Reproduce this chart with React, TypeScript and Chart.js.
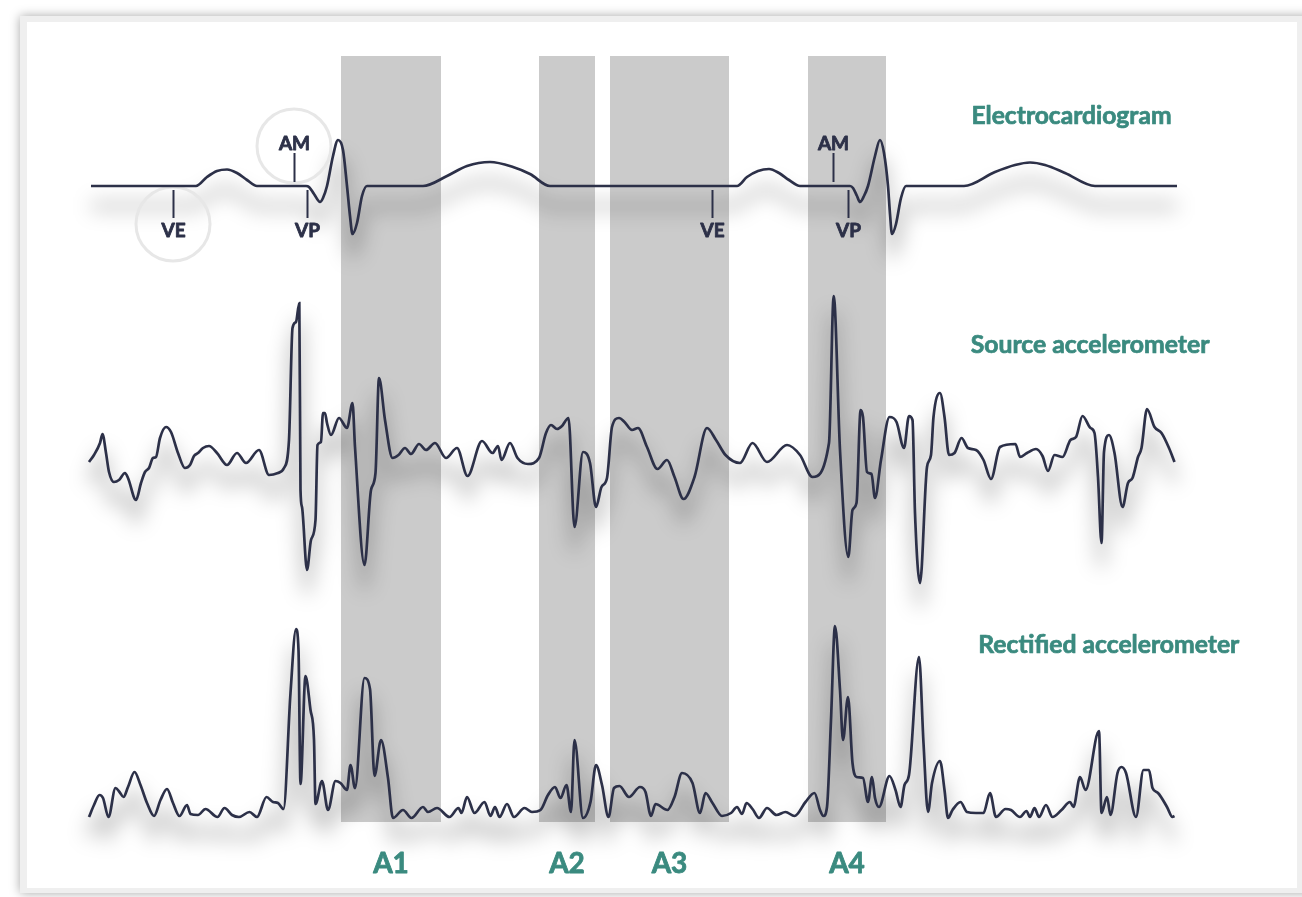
import React, { useEffect, useRef } from "react";
import { Chart, registerables } from "chart.js";

Chart.register(...registerables);

// time (ms) , amplitude (arbitrary units, 0 = trace baseline)
const ecgSamples: [number, number][] = [
  [91, 0], [196, 0], [207, 9], [217, 15], [227, 16.5], [237, 13], [247, 6], [257, 0],
  [306, 0], [309, -1], [314, -8], [320, -16], [323, -12], [327, 0], [333, 30], [338, 46],
  [343, 36], [347, 0], [350, -30], [352.5, -48], [357, -37], [362, -10], [367, 0],
  [423, 0], [447, 10], [467, 20], [490, 24], [513, 19], [530, 12], [550, 0],
  [737, 0], [747, 9], [758, 15], [769, 17], [779, 13], [789, 6], [800, 0],
  [850, 0], [853, -2], [857, -10], [860, -16], [864, -10], [868, 0], [875, 30], [880, 46],
  [884, 33], [888, 0], [890, -28], [892, -48], [896, -38], [901, -12], [906, 0],
  [964, 0], [995, 14], [1015, 21], [1030, 23.5], [1045, 21], [1065, 13], [1095, 0], [1177, 0],
];

const sourceSamples: [number, number][] = [
  [89, -7], [94, 0], [100, 12], [102.5, 21], [106, 2], [109, -17], [114, -27], [119, -25],
  [125, -18], [128, -23], [136, -45], [141, -28], [145, -17], [149, -13], [153, -3], [156, -2],
  [160, 17], [166, 28], [171, 23], [178, 2], [185, -13], [190, -10], [194, -1], [198, 2],
  [203, 7], [209, 9], [217, 2], [227, -10], [237, 2], [246, -8], [259, 5], [269, -20],
  [278, -18], [284, -13], [289, 15], [292.5, 127], [296, 133], [299.3, 152], [300.5, -35],
  [302, -52], [307, -115], [311, -85], [315.5, -65], [317.5, 10], [321, 13], [323, 42],
  [325, 42], [327, 32], [331, 20], [339, 37], [347, 27], [352.5, 52], [355, 8], [364.5, -110],
  [371, -35], [375.5, -18], [379, 77], [385, 35], [392.5, -3], [398.5, 0], [405, 7], [411, 1],
  [419, 11], [426, 5], [435, 12], [446, -3], [457, 7], [467.5, -21], [482, 14], [492.5, 2],
  [498, 9], [501.5, -5], [510, 12], [517.5, -3], [528, -9], [539, -3], [546, 22], [551, 30],
  [557, 26], [562, 29], [568.5, 37], [574.5, -72], [583, 3], [590, -8], [596, -52],
  [601.5, -32], [607, -23], [612, 28], [619, 37], [624.5, 33], [632, 25], [638, 27], [647, 8],
  [657.5, -14], [667, -5], [674.5, -22], [683.5, -44], [694.5, -22], [707, 27], [716, 15],
  [725.5, 0], [740, -8], [752.5, 12], [767, -7], [787, 10], [800, 0], [812.5, -22], [829, 12],
  [833.7, 159], [840, 5], [848.3, -102], [852.5, -55], [856.5, -48], [860.6, 45], [863, 38],
  [867, -17], [871.5, -19], [875, -43], [881, -5], [889.5, 38], [896.5, 33], [904, 7],
  [909, 39], [912.5, 35], [915, -58], [920, -128], [927, -12], [931, 0], [933.5, 38],
  [940, 62], [944.5, 38], [949, 0], [954.5, 2], [961.5, 17], [968, 7], [976, 5], [983.5, -5],
  [991, -24], [1000, 8], [1015.5, 11], [1020, -2], [1027, 2], [1036, 6], [1042.5, -1],
  [1048, -16], [1054.5, 0], [1062.5, -2], [1070.5, 15], [1076, 18], [1082.5, 39], [1090.5, 27],
  [1094.5, 22], [1098, -22], [1101.5, -88], [1104, 3], [1109, 20], [1114.5, 2], [1122.5, -52],
  [1128, -28], [1132.5, -23], [1138, -2], [1141.5, 7], [1147, 46], [1154.5, 28], [1161.5, 22],
  [1169, 7], [1174.5, -7],
];

const rectifiedSamples: [number, number][] = [
  [89, 1], [94, 13], [99.5, 23], [103, 20], [108.5, 1], [115.5, 30], [119.5, 26], [123.5, 21],
  [128, 31], [134.5, 46], [140.5, 33], [147, 15], [154, 2], [160.5, 18], [167, 29], [173, 15],
  [179.5, 2], [187, 13], [190.5, 4], [198, 3], [205.5, 9], [217.5, 1], [224.5, 10], [232, 3],
  [239, 1], [249.5, 6], [257, 1], [266.5, 21], [273, 16], [278, 15], [283.5, 9], [290.5, 125],
  [296, 189], [298.5, 168], [300.5, 34], [305.5, 142], [310.5, 108], [314, 78], [315.5, 14],
  [322, 37], [328, 8], [335.5, 37], [340.5, 35], [347, 28], [350.5, 53], [355, 30],
  [364.5, 140], [370, 129], [374.5, 42], [381, 78], [388, 40], [393, 0], [403, 8], [411.5, 0],
  [423, 11], [428, 6], [437, 10], [449.5, 1], [458.5, 10], [461.5, 5], [467, 21], [474.5, 5],
  [484.5, 16], [490.5, 2], [495, 11], [499.5, 1], [507, 14], [514, 1], [524.5, 10], [532, 6],
  [540.5, 8], [548, 23], [555, 31], [560.5, 20], [566.5, 33], [571, 6], [574.5, 78], [583, 0],
  [590.5, 16], [596, 53], [602, 33], [608.5, 1], [614, 30], [619.5, 32], [629, 21], [640, 31],
  [645.5, 26], [651, 2], [655.5, 14], [667.5, 8], [674.5, 21], [682, 45], [692.5, 35], [700, 5],
  [705.5, 25], [712.5, 15], [722, 2], [731, 5], [737, 11], [742, 4], [746.5, 15], [752.5, 9],
  [759, 0], [767, 10], [776.5, 3], [785.5, 6], [794.5, 2], [805.5, 16], [814.5, 25], [820, 8],
  [823.5, 2], [827, 11], [831, 98], [835, 192], [840, 128], [843, 78], [848, 121], [852.5, 55],
  [856.5, 41], [863, 40], [868, 16], [872, 41], [875, 20], [879, 11], [889.5, 42], [895.5, 28],
  [900.5, 11], [904.5, 33], [909, 43], [919, 161], [923.5, 75], [928, 6], [932, 35], [940, 57],
  [944.5, 28], [948, 0], [952.5, 8], [960.5, 16], [967, 6], [976, 5], [983.5, 5], [990, 25],
  [996, 1], [1005.5, 9], [1011, 8], [1020, 1], [1026.5, 7], [1030, 1], [1034.5, 10], [1039, 1],
  [1046, 13], [1052.5, 1], [1061.5, 8], [1070, 16], [1073.5, 11], [1080, 41], [1085.5, 28],
  [1099, 87], [1101.5, 5], [1107, 21], [1110.5, 3], [1117.5, 45], [1121.5, 51], [1126, 45],
  [1136, 1], [1143.5, 48], [1149, 48], [1152.5, 30], [1158, 25], [1167, 11], [1172.5, 1],
  [1174.5, 2],
];

const bandNames = ["A1", "A2", "A3", "A4"];
const bandStart = [341, 539, 610, 808];
const bandEnd = [441, 595, 729, 886];

const markerLabels = ["VE", "AM", "VP", "VE", "AM", "VP"];
const markerTimes = [173, 294, 307, 712, 833, 848];
const markerAbove = [false, true, false, false, true, false];
const markerCircled = [true, true, false, false, false, false];

const traceNames = ["Electrocardiogram", "Source accelerometer", "Rectified accelerometer"];

const NAVY = "#2c3048";
const TEAL = "#3a8a7f";
const BAND = "#cbcbcb";
const FONT = "Lato, 'Open Sans', sans-serif";

function heavyText(ctx: CanvasRenderingContext2D, text: string, x: number, y: number, sw: number) {
  ctx.lineWidth = sw;
  ctx.lineJoin = "round";
  ctx.strokeText(text, x, y);
  ctx.fillText(text, x, y);
}

function fitText(ctx: CanvasRenderingContext2D, text: string, x: number, y: number, width: number, size: number) {
  ctx.save();
  ctx.font = `bold ${size}px ${FONT}`;
  ctx.textAlign = "left";
  ctx.textBaseline = "alphabetic";
  ctx.strokeStyle = ctx.fillStyle as string;
  const w = ctx.measureText(text).width;
  ctx.translate(x, y);
  ctx.scale(width / w, 1);
  heavyText(ctx, text, 0, 0, 0.7);
  ctx.restore();
}

const decorPlugin = {
  id: "decor",
  beforeDraw(chart: any) {
    const { ctx, width, height } = chart;
    ctx.save();
    ctx.fillStyle = "#ffffff";
    ctx.fillRect(0, 0, width, height);
    ctx.shadowColor = "rgba(0,0,0,0.35)";
    ctx.shadowBlur = 10;
    ctx.fillStyle = "#efefef";
    ctx.fillRect(20, 16, width + 20, 893 - 16);
    ctx.restore();
    ctx.save();
    ctx.fillStyle = "#ffffff";
    ctx.fillRect(27, 22, 1297 - 27, 888 - 22);
    ctx.restore();
  },
  beforeDatasetsDraw(chart: any) {
    const { ctx, chartArea } = chart;
    const xs = chart.scales.x;
    ctx.save();
    ctx.fillStyle = BAND;
    for (let i = 0; i < bandStart.length; i++) {
      const x0 = xs.getPixelForValue(bandStart[i]);
      const x1 = xs.getPixelForValue(bandEnd[i]);
      ctx.fillRect(x0, chartArea.top, x1 - x0, chartArea.bottom - chartArea.top);
    }
    ctx.restore();
    // soft drop shadows under traces
    for (let d = 0; d < 3; d++) {
      const meta = chart.getDatasetMeta(d);
      const pts = meta.data;
      ctx.save();
      ctx.filter = "blur(10px)";
      ctx.strokeStyle = "rgba(0,0,0,0.22)";
      ctx.lineWidth = 9;
      ctx.lineJoin = "round";
      ctx.beginPath();
      pts.forEach((p: any, j: number) => {
        if (j === 0) ctx.moveTo(p.x, p.y + 20);
        else ctx.lineTo(p.x, p.y + 20);
      });
      ctx.stroke();
      ctx.restore();
    }
    // highlight circles
    const ye = chart.scales.yEcg;
    ctx.save();
    ctx.strokeStyle = "#e7e7e7";
    ctx.lineWidth = 3;
    for (let i = 0; i < markerTimes.length; i++) {
      if (!markerCircled[i]) continue;
      const cx = xs.getPixelForValue(markerTimes[i]);
      const cy = ye.getPixelForValue(markerAbove[i] ? 40 : -38);
      ctx.beginPath();
      ctx.arc(cx, cy, 37, 0, Math.PI * 2);
      ctx.stroke();
    }
    ctx.restore();
  },
  afterDatasetsDraw(chart: any) {
    const { ctx, chartArea } = chart;
    const xs = chart.scales.x;
    const ye = chart.scales.yEcg;
    ctx.save();
    ctx.strokeStyle = NAVY;
    ctx.fillStyle = NAVY;
    ctx.font = `bold 19px ${FONT}`;
    ctx.textAlign = "center";
    ctx.textBaseline = "alphabetic";
    for (let i = 0; i < markerTimes.length; i++) {
      const x = Math.round(xs.getPixelForValue(markerTimes[i])) + 0.5;
      const a = markerAbove[i];
      ctx.lineWidth = 2;
      ctx.beginPath();
      ctx.moveTo(x, ye.getPixelForValue(a ? 33 : -4));
      ctx.lineTo(x, ye.getPixelForValue(a ? 4 : -32));
      ctx.stroke();
      heavyText(ctx, markerLabels[i], x, ye.getPixelForValue(a ? 36 : -51), 0.8);
    }
    ctx.restore();

    ctx.save();
    ctx.fillStyle = TEAL;
    ctx.strokeStyle = TEAL;
    fitText(ctx, traceNames[0], 971.5, 124.3, 200, 24);
    fitText(ctx, traceNames[1], 970.7, 353.3, 238.7, 24);
    fitText(ctx, traceNames[2], 978.3, 653, 261, 24);
    ctx.font = `bold 28px ${FONT}`;
    ctx.textAlign = "center";
    ctx.textBaseline = "alphabetic";
    for (let i = 0; i < bandNames.length; i++) {
      const cx = xs.getPixelForValue((bandStart[i] + bandEnd[i]) / 2);
      heavyText(ctx, bandNames[i], cx, chartArea.bottom + 51, 0.8);
    }
    ctx.restore();
  },
};

export default function App() {
  const ref = useRef<HTMLCanvasElement | null>(null);
  useEffect(() => {
    if (!ref.current) return;
    const mk = (s: [number, number][], axis: string) => ({
      data: s.map(([x, y]) => ({ x, y })),
      borderColor: NAVY,
      borderWidth: 2.7,
      pointRadius: 0,
      cubicInterpolationMode: "monotone" as const,
      fill: false,
      clip: false as any,
      yAxisID: axis,
    });
    const chart = new Chart(ref.current, {
      type: "line",
      data: {
        datasets: [
          mk(ecgSamples, "yEcg"),
          mk(sourceSamples, "ySrc"),
          mk(rectifiedSamples, "yRect"),
        ] as any,
      },
      options: {
        responsive: false,
        animation: false,
        devicePixelRatio: 1,
        events: [],
        layout: { padding: { left: 89, right: 125, top: 56, bottom: 75 } },
        plugins: { legend: { display: false }, tooltip: { enabled: false } },
        scales: {
          x: { type: "linear", min: 89, max: 1177, display: false },
          yEcg: { type: "linear", min: -636, max: 130, display: false },
          ySrc: { type: "linear", min: -367, max: 399, display: false },
          yRect: { type: "linear", min: -4, max: 762, display: false },
        },
      },
      plugins: [decorPlugin],
    });
    return () => chart.destroy();
  }, []);
  return (
    <div style={{ position: "absolute", left: 0, top: 0, width: 1302, height: 897 }}>
      <canvas ref={ref} width={1302} height={897} style={{ display: "block" }} />
    </div>
  );
}
